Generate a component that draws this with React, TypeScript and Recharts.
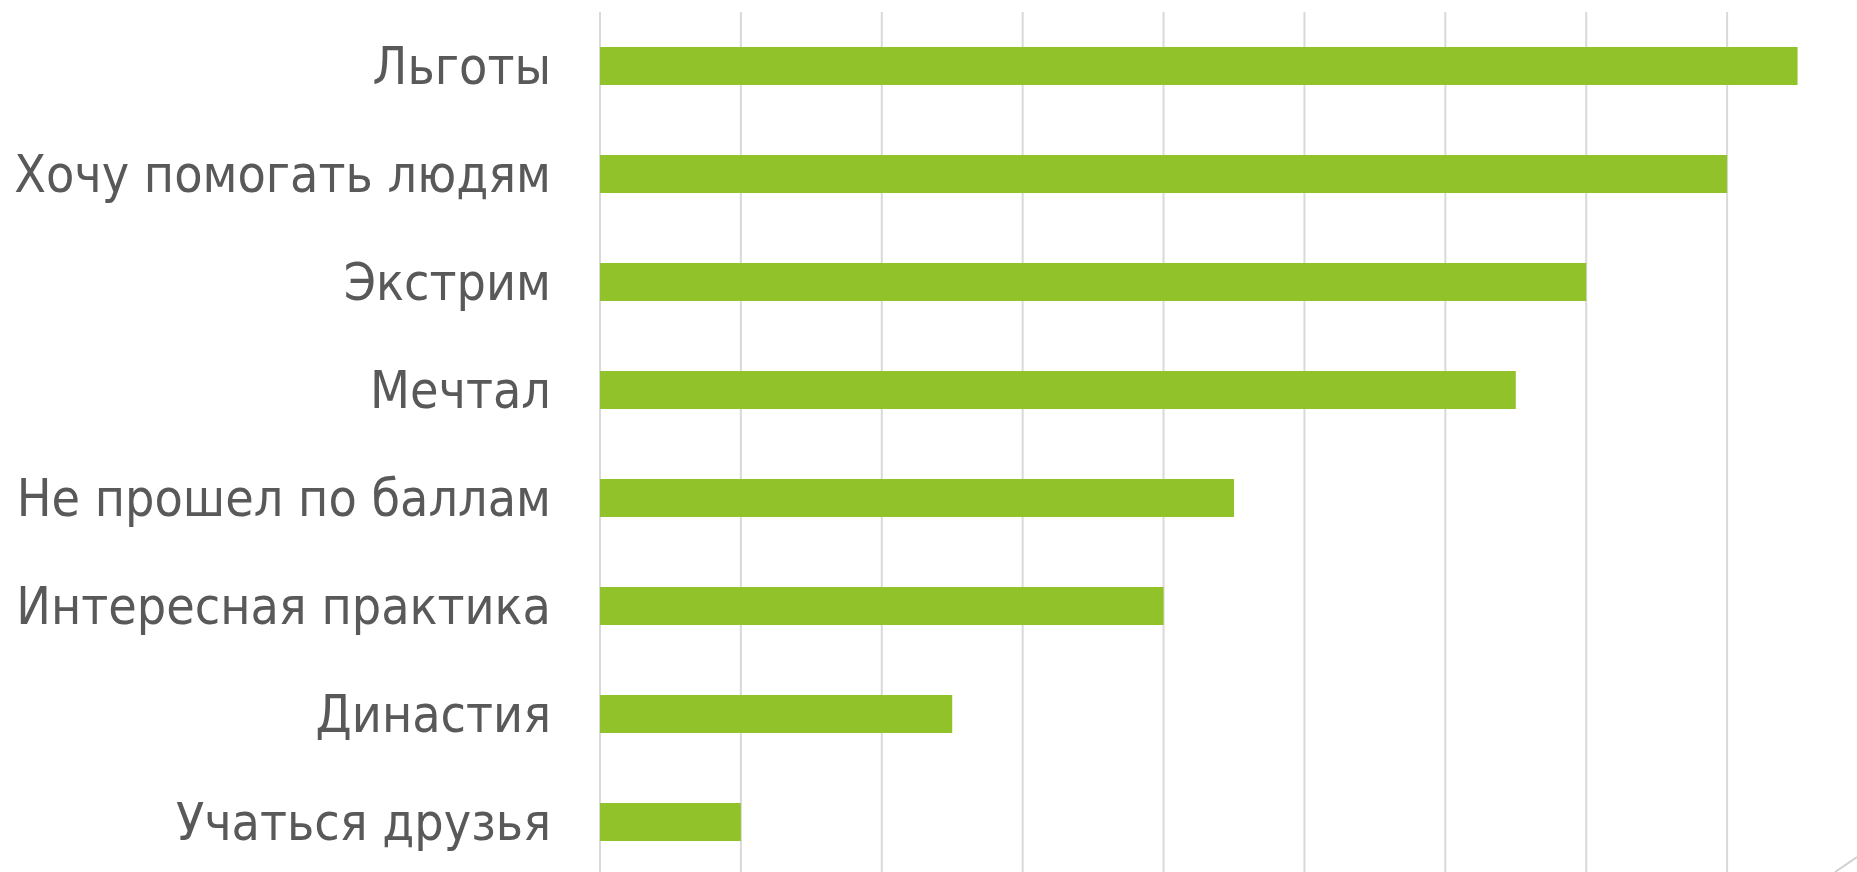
import React from "react";
import { BarChart, Bar, XAxis, YAxis, CartesianGrid } from "recharts";

const categories: string[] = [
  "Льготы",
  "Хочу помогать людям",
  "Экстрим",
  "Мечтал",
  "Не прошел по баллам",
  "Интересная практика",
  "Династия",
  "Учаться друзья",
];
const values: number[] = [8.5, 8, 7, 6.5, 4.5, 4, 2.5, 1];
const xTicks: number[] = [0, 1, 2, 3, 4, 5, 6, 7, 8, 9];

const data = categories.map((name, i) => ({ name, value: values[i] }));

export default function App() {
  return (
    <div
      style={{
        position: "absolute",
        left: 0,
        top: 0,
        width: 1857,
        height: 872,
        overflow: "hidden",
        background: "#fff",
      }}
    >
      <BarChart
        width={1870}
        height={880}
        data={data}
        layout="vertical"
        margin={{ top: 12, right: 2, bottom: 4, left: 0 }}
        barSize={38}
      >
        <CartesianGrid horizontal={false} stroke="#d9d9d9" strokeWidth={2} />
        <XAxis type="number" domain={[0, 9]} ticks={xTicks} hide />
        <YAxis
          type="category"
          dataKey="name"
          width={600}
          axisLine={false}
          tickLine={false}
          tickSize={0}
          tickMargin={49}
          tick={{ fill: "#595959", fontSize: 51.5, fontFamily: "DejaVu Sans Condensed" }}
          interval={0}
        />
        <Bar dataKey="value" fill="#92c229" isAnimationActive={false} />
      </BarChart>
      <svg
        width={1857}
        height={872}
        style={{ position: "absolute", left: 0, top: 0, pointerEvents: "none" }}
      >
        <line x1={1835} y1={872} x2={1857} y2={857} stroke="#d0d0d0" strokeWidth={2} />
      </svg>
    </div>
  );
}
